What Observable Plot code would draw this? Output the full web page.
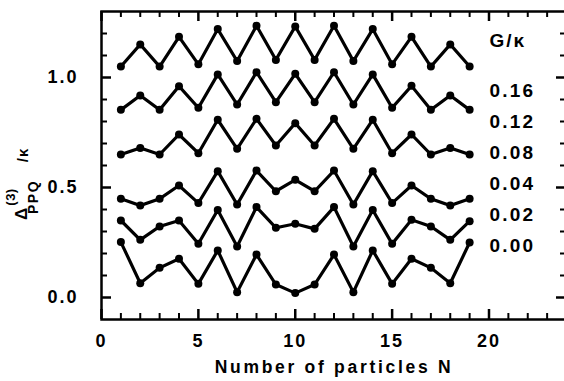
<!DOCTYPE html>
<html><head><meta charset="utf-8">
<script src="https://cdn.jsdelivr.net/npm/d3@7"></script>
<script src="https://cdn.jsdelivr.net/npm/@observablehq/plot@0.6"></script>
<style>
body{margin:0;background:#fff;}
svg{font-family:"Liberation Sans",Arial,sans-serif;font-weight:bold;}
</style></head><body><div id="chart"></div>
<script>
const N = [1,2,3,4,5,6,7,8,9,10,11,12,13,14,15,16,17,18,19];
const G016 = [1.05,1.15,1.05,1.185,1.06,1.22,1.075,1.235,1.08,1.232,1.08,1.235,1.075,1.22,1.06,1.185,1.05,1.15,1.05];
const G012 = [0.853,0.918,0.853,0.96,0.862,1.014,0.877,1.024,0.888,1.017,0.888,1.024,0.877,1.014,0.862,0.962,0.853,0.918,0.853];
const G008 = [0.65,0.68,0.65,0.741,0.656,0.808,0.676,0.812,0.691,0.792,0.691,0.812,0.676,0.808,0.656,0.741,0.65,0.68,0.65];
const G004 = [0.449,0.418,0.449,0.509,0.429,0.574,0.423,0.577,0.483,0.535,0.483,0.577,0.423,0.574,0.429,0.509,0.449,0.418,0.449];
const G002 = [0.35,0.262,0.323,0.35,0.244,0.398,0.232,0.411,0.317,0.335,0.312,0.411,0.232,0.398,0.244,0.353,0.323,0.262,0.347];
const G000 = [0.252,0.065,0.135,0.176,0.062,0.214,0.024,0.195,0.059,0.02,0.059,0.195,0.024,0.214,0.062,0.176,0.135,0.065,0.25];
const seriesNames = ["0.16","0.12","0.08","0.04","0.02","0.00"];
const seriesValues = [G016,G012,G008,G004,G002,G000];
const xMajor = [0,5,10,15,20];
const xMinor = [1,2,3,4,6,7,8,9,11,12,13,14,16,17,18,19,21,22,23];
const yMajor = [0,0.5,1.0];
const yMinor = [0.1,0.2,0.3,0.4,0.6,0.7,0.8,0.9,1.1,1.2];
const yTickLabels = ["0.0","0.5","1.0"];
const xLabel = "Number of particles N";
const legendTitle = "G/\u03BA";

const data = seriesNames.flatMap((g, i) => N.map((n, j) => ({g, n, v: seriesValues[i][j]})));

const W = 564, H = 381, mL = 101, mR = -2, mT = 11, mB = 62;
const pw = W - mL - mR, ph = H - mT - mB;

const chart = Plot.plot({
  width: W, height: H,
  marginLeft: mL, marginRight: mR, marginTop: mT, marginBottom: mB,
  x: {domain: [0, 24]},
  y: {domain: [-0.1, 1.3]},
  style: {fontSize: "16px", fontWeight: "bold", fontFamily: "'Liberation Sans', Arial, sans-serif", color: "#000", background: "#fff"},
  marks: [
    Plot.frame({strokeWidth: 2.5, fill: "none", stroke: "#000"}),
    // inward ticks on all four sides
    Plot.tickX(xMinor, {x: d => d, insetTop: ph - 6, strokeWidth: 2, stroke: "#000"}),
    Plot.tickX(xMajor, {x: d => d, insetTop: ph - 10, strokeWidth: 2.5, stroke: "#000"}),
    Plot.tickX(xMinor, {x: d => d, insetBottom: ph - 6, strokeWidth: 2, stroke: "#000"}),
    Plot.tickX(xMajor, {x: d => d, insetBottom: ph - 10, strokeWidth: 2.5, stroke: "#000"}),
    Plot.tickY(yMinor, {y: d => d, insetRight: pw - 6, strokeWidth: 2, stroke: "#000"}),
    Plot.tickY(yMajor, {y: d => d, insetRight: pw - 10, strokeWidth: 2.5, stroke: "#000"}),
    Plot.tickY(yMinor, {y: d => d, insetLeft: pw - 6, strokeWidth: 2, stroke: "#000"}),
    Plot.tickY(yMajor, {y: d => d, insetLeft: pw - 10, strokeWidth: 2.5, stroke: "#000"}),
    Plot.axisX(xMajor, {anchor: "bottom", tickSize: 0, tickPadding: 15, label: null, fontSize: 18}),
    Plot.axisY(yMajor, {anchor: "left", tickSize: 0, tickPadding: 23, label: null, fontSize: 18, tickFormat: (d, i) => yTickLabels[i]}),
    Plot.line(data, {x: "n", y: "v", z: "g", stroke: "#000", strokeWidth: 3.2, strokeLinejoin: "miter", strokeMiterlimit: 4}),
    Plot.dot(data, {x: "n", y: "v", r: 4, fill: "#000", stroke: "none"}),
    Plot.text([xLabel], {frameAnchor: "bottom", text: d => d, dy: 53, fontSize: 17.5}),
    Plot.text([legendTitle], {frameAnchor: "top-right", text: d => d, textAnchor: "start", dx: -77, dy: 22, fontSize: 19}),
    Plot.text([seriesNames.join("\n")], {frameAnchor: "top-right", text: d => d, textAnchor: "start", lineAnchor: "top", lineHeight: 31 / 19, dx: -77, dy: 63, fontSize: 19})
  ]
});
document.getElementById("chart").appendChild(chart);

const svg = d3.select(chart);
svg.selectAll("text").each(function () {
  const s = this.textContent;
  if (s === xLabel) d3.select(this).attr("letter-spacing", 2.7);
  else if (xMajor.map(String).includes(s)) d3.select(this).attr("letter-spacing", 2);
  else if (yTickLabels.includes(s)) d3.select(this).attr("letter-spacing", 2);
});
svg.selectAll("tspan").attr("letter-spacing", 2.2);
svg.selectAll("text").filter(function () { return this.textContent === legendTitle; }).attr("letter-spacing", 2);

// rotated y-axis title: Δ^(3)_PPQ /κ
const t = svg.append("text")
  .attr("transform", "translate(27,214) rotate(-90)")
  .attr("fill", "#000")
  .attr("font-weight", "bold")
  .attr("font-family", "'Liberation Sans', Arial, sans-serif");
t.append("tspan").attr("x", 0).attr("y", 0).attr("font-size", 17).text("\u0394");
t.append("tspan").attr("x", 17).attr("y", -12).attr("font-size", 13).attr("letter-spacing", 0.5).text("(3)");
t.append("tspan").attr("x", 17).attr("y", 11).attr("font-size", 14).attr("letter-spacing", 1.5).text("PPQ");
t.append("tspan").attr("x", 59).attr("y", 1).attr("font-size", 15).attr("letter-spacing", 1).text("/\u03BA");
</script></body></html>
